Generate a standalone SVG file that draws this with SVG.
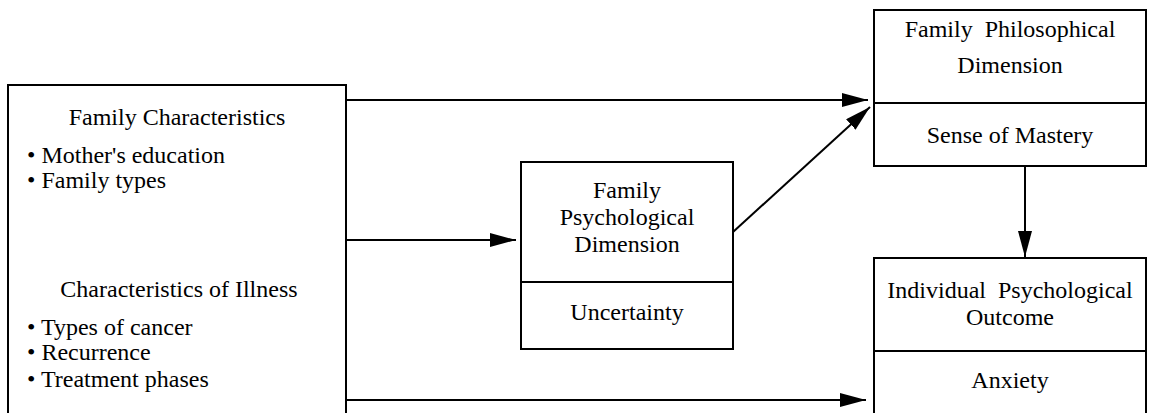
<svg xmlns="http://www.w3.org/2000/svg" width="1154" height="413" viewBox="0 0 1154 413">
<style>
.box{fill:#fff;stroke:#000;stroke-width:2}
.div{stroke:#000;stroke-width:2}
.t{font-family:"Liberation Serif","Times New Roman",serif;font-size:24px;fill:#000}
.c{text-anchor:middle}
.conn{stroke:#000;stroke-width:2;fill:none}
</style>
<defs>
<marker id="ah" viewBox="0 0 26 14" refX="26" refY="7" markerWidth="26" markerHeight="14" markerUnits="userSpaceOnUse" orient="auto">
<path d="M0,0 L26,7 L0,14 Z" fill="#000"/>
</marker>
</defs>
<rect width="1154" height="413" fill="#fff"/>
<g id="connectors">
<line class="conn" x1="346" y1="100" x2="868" y2="100" marker-end="url(#ah)"/>
<line class="conn" x1="346" y1="240" x2="516" y2="240" marker-end="url(#ah)"/>
<line class="conn" x1="346" y1="400" x2="866" y2="400" marker-end="url(#ah)"/>
<line class="conn" x1="733" y1="232" x2="870" y2="107" marker-end="url(#ah)"/>
<line class="conn" x1="1025" y1="166" x2="1025" y2="257" marker-end="url(#ah)"/>
</g>
<g id="family-characteristics">
<rect class="box" x="8" y="85" width="338" height="335"/>
<text class="t c" x="177" y="125">Family Characteristics</text>
<text class="t" x="27" y="163">• Mother's education</text>
<text class="t" x="27" y="188">• Family types</text>
<text class="t c" x="179" y="297">Characteristics of Illness</text>
<text class="t" x="27" y="335">• Types of cancer</text>
<text class="t" x="27" y="360">• Recurrence</text>
<text class="t" x="27" y="387">• Treatment phases</text>
</g>
<g id="family-psychological">
<rect class="box" x="521" y="162" width="212" height="187"/>
<line class="div" x1="521" y1="282" x2="733" y2="282"/>
<text class="t c" x="627" y="198">Family</text>
<text class="t c" x="627" y="225">Psychological</text>
<text class="t c" x="627" y="252">Dimension</text>
<text class="t c" x="627" y="320">Uncertainty</text>
</g>
<g id="family-philosophical">
<rect class="box" x="874" y="10" width="272" height="156"/>
<line class="div" x1="874" y1="103" x2="1146" y2="103"/>
<text class="t c" x="1010" y="37" xml:space="preserve">Family  Philosophical</text>
<text class="t c" x="1010" y="73">Dimension</text>
<text class="t c" x="1010" y="143">Sense of Mastery</text>
</g>
<g id="individual-outcome">
<rect class="box" x="874" y="258" width="272" height="162"/>
<line class="div" x1="874" y1="351" x2="1146" y2="351"/>
<text class="t c" x="1010" y="298" xml:space="preserve">Individual  Psychological</text>
<text class="t c" x="1010" y="325">Outcome</text>
<text class="t c" x="1010" y="388">Anxiety</text>
</g>
</svg>
